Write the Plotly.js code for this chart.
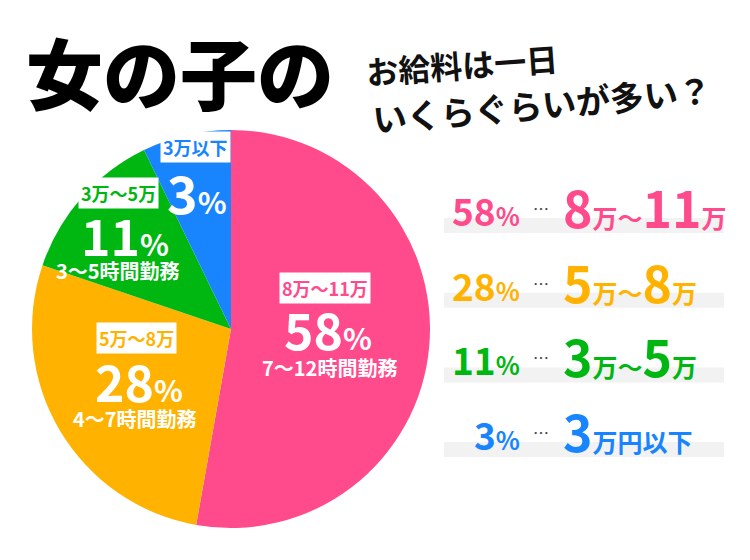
<!DOCTYPE html>
<html>
<head>
<meta charset="utf-8">
<script src="https://cdn.plot.ly/plotly-3.0.1.min.js"></script>
<style>body{margin:0;background:#fff}</style>
</head>
<body>
<div id="plot" style="width:750px;height:560px"></div>
<script>
// slice data (shares as drawn in the picture, labels as printed)
var ranges = ["8万〜11万", "5万〜8万", "3万〜5万", "3万以下"];
var percents = [58, 28, 11, 3];
var sliceShare = [52.8, 27.4, 12.6, 7.2];
var hours = ["7〜12時間勤務", "4〜7時間勤務", "3〜5時間勤務", ""];
var legendRanges = ["8万〜11万", "5万〜8万", "3万〜5万", "3万円以下"];
var colors = ["#FF4A8C", "#FFB300", "#00B712", "#1885FF"];

var F = "Noto Sans CJK JP";
function px(x) { return x / 750; }
function py(y) { return 1 - y / 560; }

var ann = [];
function add(x, y, text, opt) {
  var a = {
    xref: "paper", yref: "paper", x: px(x), y: py(y), text: text,
    showarrow: false, xanchor: "center", yanchor: "middle",
    font: {family: F, size: 20, color: "#fff", weight: 700}
  };
  for (var k in opt) a[k] = opt[k];
  ann.push(a);
}

// headline
add(180, 70, "女の子の", {font: {family: F, size: 77, color: "#000", weight: 900}});
add(462, 64, "お給料は一日", {textangle: -4, font: {family: F, size: 32, color: "#111", weight: 700}});
add(542, 103, "いくらぐらいが多い？", {textangle: -5, font: {family: F, size: 34, color: "#111", weight: 700}});

// labels inside slices
var boxPos = [[325, 288], [136, 338], [118, 193], [196, 147]];
var pctPos = [[328, 328], [139, 380], [125, 234], [197, 191]];
var hourPos = [[329, 367], [135, 418], [118, 270], null];
var pctSize = [50, 50, 50, 52];
for (var i = 0; i < ranges.length; i++) {
  add(boxPos[i][0], boxPos[i][1], ranges[i], {
    bgcolor: "#fff", borderpad: 2,
    font: {family: F, size: 18, color: colors[i], weight: 700}
  });
  add(pctPos[i][0], pctPos[i][1],
    '<span style="font-size:' + pctSize[i] + 'px">' + percents[i] + '</span>%',
    {font: {family: F, size: 30, color: "#fff", weight: 700}});
  if (hours[i]) add(hourPos[i][0], hourPos[i][1], hours[i]);
}

// legend rows on the right
var rowY = [210, 285, 359, 434];
var shapes = [];
for (var j = 0; j < legendRanges.length; j++) {
  shapes.push({type: "rect", xref: "paper", yref: "paper", layer: "below",
    x0: px(444), x1: px(724), y0: py(233 + j * 74.7), y1: py(218 + j * 74.7),
    fillcolor: "#f2f2f2", line: {width: 0}});
  add(522, rowY[j], '<span style="font-size:37px">' + percents[j] + '</span>%', {
    xanchor: "right", font: {family: F, size: 25, color: colors[j], weight: 700}});
  add(541, rowY[j] - 2, "…", {font: {family: F, size: 16, color: "#444", weight: 400}});
  add(561, rowY[j] - 4, legendRanges[j].replace(/(\d+)/g, '<span style="font-size:50px">$1</span>'), {
    xanchor: "left", font: {family: F, size: 25, color: colors[j], weight: 700}});
}

var data = [{
  type: "pie",
  values: sliceShare,
  labels: ranges,
  sort: false,
  direction: "clockwise",
  rotation: 0,
  marker: {colors: colors, line: {width: 0}},
  textinfo: "none",
  hoverinfo: "skip",
  domain: {x: [px(32), px(430)], y: [py(528), py(130)]}
}];

var layout = {
  width: 750, height: 560,
  margin: {l: 0, r: 0, t: 0, b: 0},
  paper_bgcolor: "#fff",
  showlegend: false,
  annotations: ann,
  shapes: shapes
};

Plotly.newPlot("plot", data, layout, {displayModeBar: false, staticPlot: true});
</script>
</body>
</html>
